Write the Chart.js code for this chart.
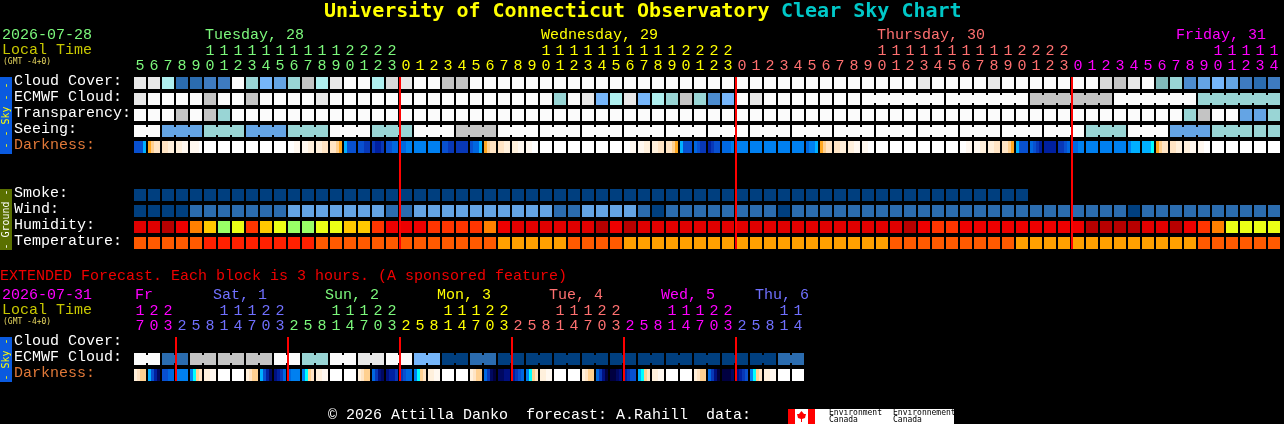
<!DOCTYPE html>
<html>
<head>
<meta charset="utf-8">
<title>Clear Sky Chart</title>
<script src="https://cdn.jsdelivr.net/npm/chart.js@4"></script>
<style>
html, body { margin: 0; padding: 0; background: #000; overflow: hidden; }
canvas { display: block; }
</style>
</head>
<body>
<canvas id="grafico" width="1284" height="424"></canvas>
<script>
// horas de cada columna
const hours = [5,6,7,8,9,10,11,12,13,14,15,16,17,18,19,20,21,22,23,
    0,1,2,3,4,5,6,7,8,9,10,11,12,13,14,15,16,17,18,19,20,21,22,23,
    0,1,2,3,4,5,6,7,8,9,10,11,12,13,14,15,16,17,18,19,20,21,22,23,
    0,1,2,3,4,5,6,7,8,9,10,11,12,13,14];
const extHours = [17,20,23,2,5,8,11,14,17,20,23,2,5,8,11,14,17,20,23,2,5,8,11,14,
    17,20,23,2,5,8,11,14,17,20,23,2,5,8,11,14,17,20,23,2,5,8,11,14];
const midnights = [19,43,67];
const extMidnights = [3,11,19,27,35,43];

// niveles del cielo: indice dentro de skyColors
const cloudCover = [1,1,4,11,11,10,10,0,5,7,8,5,3,4,1,0,0,4,2,1,
    0,0,3,3,0,0,0,0,0,0,
    0,0,0,0,0,0,0,0,0,0,
    0,0,0,0,0,0,0,0,0,0,
    0,0,0,0,0,0,1,0,0,0,
    0,1,0,0,0,0,0,0,0,2,
    3,1,0,6,5,9,8,7,8,10,
    11,10];
const ecmwfCloud = [1,0,0,0,0,3,0,0,3,0,
    0,0,0,1,0,0,0,0,0,0,
    0,0,0,0,0,0,0,0,0,0,
    5,0,1,7,4,1,7,4,5,3,
    5,9,7,0,1,0,0,0,0,0,
    0,0,0,0,0,0,0,0,0,0,
    0,0,0,0,3,3,3,3,3,3,
    0,0,0,0,0,0,5,5,5,5,
    5,5];
const transparency = [0,0,0,3,0,3,5,0,0,0,
    0,0,0,0,0,0,0,0,0,0,
    0,0,0,0,0,0,0,0,0,0,
    0,0,0,0,0,0,0,0,0,0,
    0,0,0,0,0,0,0,0,0,0,
    0,0,0,0,0,0,0,0,0,0,
    0,0,0,0,0,0,0,0,0,0,
    0,0,0,0,0,5,3,0,0,8,
    8,5];
const seeing = [0,0,8,8,8,5,5,5,8,8,8,5,5,5,0,0,0,5,5,5,0,0,0,3,3,3,
    0,0,0,0,0,0,0,0,0,0,0,0,0,0,0,0,0,0,0,0,0,0,0,0,0,0,0,0,0,0,0,0,0,0,0,0,0,0,0,0,0,0,
    5,5,5,0,0,0,8,8,8,5,5,5,5,5];
const smoke = [12,12,12,12,12,12,12,12,12,12,12,12,12,12,12,12,
    12,12,12,12,12,12,12,12,12,12,12,12,12,12,12,12,
    12,12,12,12,12,12,12,12,12,12,12,12,12,12,12,12,
    12,12,12,12,12,12,12,12,12,12,12,12,12,12,12,12];
const wind = [12,12,12,12,11,11,11,11,11,11,11,8,8,8,8,8,8,8,11,11,
    8,8,8,8,8,8,8,8,8,8,11,11,8,8,8,8,11,12,11,11,
    11,11,11,11,11,11,12,11,11,11,11,11,11,11,11,11,11,11,11,11,
    11,11,11,11,11,11,11,11,11,11,11,12,11,11,11,11,11,11,11,11,
    11,11];
const extEcmwf = [0,0,11,11,3,3,3,3,3,3,0,0,5,5,0,0,1,1,0,0,7,7,12,12,
    11,11,12,12,12,12,12,12,12,12,12,12,12,12,12,12,12,12,12,12,12,12,11,11];

// humedad y temperatura: indice dentro de su paleta
const humidity = [1,1,0,2,4,5,7,6,3,5,
    6,7,7,6,6,5,5,3,2,2,
    2,3,3,3,3,4,2,1,1,1,
    1,1,1,0,2,0,1,1,1,1,
    1,1,1,1,1,1,1,1,1,1,
    1,1,1,1,1,0,2,3,3,2,
    2,2,2,2,2,2,2,2,0,0,
    0,0,1,1,0,2,3,4,6,6,
    6,6];
const temperature = [1,1,1,1,1,0,0,0,0,0,0,0,0,1,1,1,1,1,1,1,
    1,1,1,1,1,1,2,2,2,2,2,1,1,1,1,2,2,2,2,2,
    2,2,2,2,2,2,2,2,2,2,2,2,2,2,1,1,1,1,1,1,
    1,1,1,2,2,2,2,2,2,2,2,2,2,2,2,2,1,1,1,1,
    1,1];

// oscuridad: cuatro muestras por columna, un digito hexadecimal por muestra
const darkness = ['aaa7','5433','3322','2211','1110','0000','0000','0000','0000','0000','0000',
    '0011','1122','2233','3345','7aaa','aabb','bccb','aa99','9988','8888','8888','aabb','bbbb','a997',
    '5433','3322','2211','1100','0000','0000','0000','0000','0000','0000',
    '0011','1122','2233','3345','7aaa','9abb','cbaa','9998','8888','8888','8888','8888','8888','9887',
    '5433','3322','2211','1100','0000','0000','0000','0000','0000','0000',
    '0011','1122','2233','3345','7aaa','9abc','cccc','bba9','9988','8888','8888','8888','8777','7776',
    '5433','3322','2211','1100','0000','0000','0000','0000','0000'];
const extDarkness = ['2344','7ace','aa99','8888','8643','2211','0000','0000',
    '2344','7ace','dcb9','9888','8643','2211','0000','0000',
    '2344','9bde','dccb','ba99','8643','2211','0000','0000',
    '2344','9bef','eedd','cba9','8643','2211','0000','0000',
    '2344','9bdf','ffed','cbaa','7643','2211','0000','0000',
    '2344','9bdf','fffe','dcba','8643','2211','0000','0000'];

// bloques unidos por un puente
const seeingBlocks = [2,3,3,3,3,3,3,3,3,3,3,3,3,3,3,3,3,3,3,3,3,3,3,3,3,3,3];
const ecmwfBlocks = Array(52).fill(1).concat([6,6,6,6,6]);
const extBlocks = Array(24).fill(2);

const skyColors = ['#fbfbfb','#e8e8e8','#d9d9d9','#c4c4c4','#afefef','#99d5d5','#80b9b9',
    '#76b6fa','#64a4e4','#4c8ccf','#3e7bc0','#2b6caf','#003f7f'];
const humidityColors = ['#b80000','#e00000','#ee0000','#ff3500','#ff8000','#ffc800','#ebff16','#99ff66'];
const temperatureColors = ['#ff2000','#ff5a00','#ffa000'];
const darknessColors = ['#ffffff','#fff8f0','#fff0dc','#ffe4c4','#ffd090','#ffa820','#00ffff','#00b0ff',
    '#0080f0','#0068e0','#0850d0','#0838b8','#0020a0','#001080','#000860','#000040'];

const GREEN = '#7cf87c', YELLOW = '#ffff00', SALMON = '#ff7070', MAGENTA = '#ff00ff', BLUE = '#7070ff';
const MONO = '"Liberation Mono", monospace';
const BOLD = '"DejaVu Sans Mono", monospace';

// colores de los dias segun la columna
function dayColor(i) {
    if (i < 19) return GREEN;
    if (i < 43) return YELLOW;
    if (i < 67) return SALMON;
    return MAGENTA;
}
function extDayColor(i) {
    if (i < 3) return MAGENTA;
    if (i < 11) return BLUE;
    if (i < 19) return GREEN;
    if (i < 27) return YELLOW;
    if (i < 35) return SALMON;
    if (i < 43) return MAGENTA;
    return BLUE;
}

function filaCeldas(valores, fila, paleta) {
    return {
        barThickness: 12,
        data: valores.map((v, i) => ({ x: i + 0.5, y: [fila, fila + 0.75] })),
        backgroundColor: valores.map(v => paleta[v])
    };
}

// puentes entre celdas del mismo bloque
function filaPuentes(valores, bloques, fila, paleta) {
    const data = [], colores = [];
    let col = 0;
    bloques.forEach(n => {
        for (let k = 0; k < n - 1; k++) {
            data.push({ x: col + k + 1, y: [fila + 0.125, fila + 0.625] });
            colores.push(paleta[valores[col]]);
        }
        col += n;
    });
    return { barThickness: 2, data: data, backgroundColor: colores };
}

function filaOscuridad(muestras, fila) {
    const data = [], colores = [];
    muestras.forEach((m, c) => {
        for (let s = 0; s < 4; s++) {
            data.push({ x: c + (1.5 + 3 * s + 1) / 14, y: [fila, fila + 0.75] });
            colores.push(darknessColors[parseInt(m[s], 16)]);
        }
    });
    return { barThickness: 3, data: data, backgroundColor: colores };
}

function lineasRojas(cols, desde, hasta) {
    return {
        barThickness: 2,
        data: cols.map(c => ({ x: c + 1 / 14, y: [desde, hasta] })),
        backgroundColor: '#ff0000'
    };
}

// textos que no son etiquetas de eje
const textos = [
    ['2026-07-28', 2, 35, GREEN], ['Local Time', 2, 50, '#c8c800'],
    ['Tuesday, 28', 205, 35, GREEN], ['Wednesday, 29', 541, 35, YELLOW],
    ['Thursday, 30', 877, 35, SALMON], ['Friday, 31', 1176, 35, MAGENTA],
    ['Cloud Cover:', 14, 81, '#fff'], ['ECMWF Cloud:', 14, 97, '#fff'],
    ['Transparency:', 14, 113, '#fff'], ['Seeing:', 14, 129, '#fff'], ['Darkness:', 14, 145, '#e07838'],
    ['Smoke:', 14, 193, '#fff'], ['Wind:', 14, 209, '#fff'],
    ['Humidity:', 14, 225, '#fff'], ['Temperature:', 14, 241, '#fff'],
    ['EXTENDED Forecast. Each block is 3 hours. (A sponsored feature)', 0, 276, '#f00000'],
    ['2026-07-31', 2, 295, MAGENTA], ['Local Time', 2, 310, '#c8c800'],
    ['Fr', 135, 295, MAGENTA], ['Sat, 1', 213, 295, BLUE], ['Sun, 2', 325, 295, GREEN],
    ['Mon, 3', 437, 295, YELLOW], ['Tue, 4', 549, 295, SALMON], ['Wed, 5', 661, 295, MAGENTA],
    ['Thu, 6', 755, 295, BLUE],
    ['Cloud Cover:', 14, 341, '#fff'], ['ECMWF Cloud:', 14, 357, '#fff'], ['Darkness:', 14, 373, '#e07838'],
    ['\u00a9 2026 Attilla Danko  forecast: A.Rahill  data:', 328, 415, '#fff']
];

const decoracion = {
    id: 'decoracion',
    afterDraw(chart) {
        const c = chart.ctx;
        c.save();
        c.textBaseline = 'middle';
        c.textAlign = 'left';

        c.font = 'bold 20px ' + BOLD;
        c.fillStyle = '#ffff00';
        c.fillText('University of Connecticut Observatory', 324, 12);
        c.fillStyle = '#00c8c8';
        c.fillText('Clear Sky Chart', 781, 12);

        c.font = '15px ' + MONO;
        textos.forEach(t => {
            c.fillStyle = t[3];
            c.fillText(t[0], t[1], t[2]);
        });

        c.font = '8px ' + BOLD;
        c.fillStyle = '#e8d860';
        c.fillText('(GMT -4+0)', 3, 62);
        c.fillText('(GMT -4+0)', 3, 322);

        // bandas laterales
        const banda = (y0, y1, color, tinta, texto) => {
            c.fillStyle = color;
            c.fillRect(0, y0, 12, y1 - y0);
            c.save();
            c.translate(6, (y0 + y1) / 2);
            c.rotate(-Math.PI / 2);
            c.textAlign = 'center';
            c.font = '10px ' + BOLD;
            c.fillStyle = tinta;
            c.fillText(texto, 0, 0);
            c.restore();
        };
        banda(77, 154, '#0a5adf', '#ffff00', '- - Sky - -');
        banda(189, 250, '#5a7000', '#ffffff', '- Ground -');
        banda(337, 382, '#0a5adf', '#ffff00', '- Sky -');

        // logo del final
        c.fillStyle = '#ffffff';
        c.fillRect(795, 409, 159, 15);
        c.fillStyle = '#ff0000';
        c.fillRect(788, 409, 7, 15);
        c.fillRect(808, 409, 7, 15);
        c.beginPath();
        c.moveTo(801.5, 411);
        c.lineTo(804, 414);
        c.lineTo(806, 414);
        c.lineTo(805, 418);
        c.lineTo(802, 419);
        c.lineTo(802, 422);
        c.lineTo(801, 422);
        c.lineTo(801, 419);
        c.lineTo(798, 418);
        c.lineTo(797, 414);
        c.lineTo(799, 414);
        c.closePath();
        c.fill();
        c.fillStyle = '#000000';
        c.font = '8px ' + BOLD;
        c.fillText('Environment', 829, 413);
        c.fillText('Canada', 829, 420);
        c.fillText('Environnement', 893, 413);
        c.fillText('Canada', 893, 420);
        c.restore();
    }
};

function ejeHoras(lista, colorDia, posicion) {
    return {
        type: 'linear',
        min: 0,
        max: 82,
        offset: false,
        position: { y: posicion },
        grid: { display: false, drawTicks: false },
        border: { display: false },
        afterBuildTicks: eje => { eje.ticks = lista.map((h, i) => ({ value: i + 0.5 })); },
        ticks: {
            autoSkip: false,
            maxRotation: 0,
            minRotation: 0,
            padding: 0,
            color: ctx => colorDia(ctx.index),
            font: { family: MONO, size: 15, lineHeight: 1 },
            callback: (v, i) => [lista[i] > 9 ? String(Math.floor(lista[i] / 10)) : '', String(lista[i] % 10)]
        }
    };
}

const ctx = document.getElementById('grafico').getContext('2d');
new Chart(ctx, {
    type: 'bar',
    data: {
        datasets: [
            lineasRojas(midnights, 0, 10.75),
            lineasRojas(extMidnights, 16.25, 19),
            filaCeldas(cloudCover, 0, skyColors),
            filaCeldas(ecmwfCloud, 1, skyColors),
            filaPuentes(ecmwfCloud, ecmwfBlocks, 1, skyColors),
            filaCeldas(transparency, 2, skyColors),
            filaCeldas(seeing, 3, skyColors),
            filaPuentes(seeing, seeingBlocks, 3, skyColors),
            filaOscuridad(darkness, 4),
            filaCeldas(smoke, 7, skyColors),
            filaCeldas(wind, 8, skyColors),
            filaCeldas(humidity, 9, humidityColors),
            filaCeldas(temperature, 10, temperatureColors),
            filaCeldas(extEcmwf, 17.25, skyColors),
            filaPuentes(extEcmwf, extBlocks, 17.25, skyColors),
            filaOscuridad(extDarkness, 18.25)
        ]
    },
    options: {
        responsive: false,
        animation: false,
        devicePixelRatio: 1,
        events: [],
        layout: { padding: { left: 133, right: 3, top: 77, bottom: 43 } },
        datasets: { bar: { grouped: false, inflateAmount: 0, borderWidth: 0 } },
        plugins: { legend: { display: false }, tooltip: { enabled: false } },
        scales: {
            y: { type: 'linear', min: 0, max: 19, reverse: true, display: false },
            x: ejeHoras(hours, dayColor, -2.1),
            x2: ejeHoras(extHours, extDayColor, 14.15)
        }
    },
    plugins: [decoracion]
});
</script>
</body>
</html>
